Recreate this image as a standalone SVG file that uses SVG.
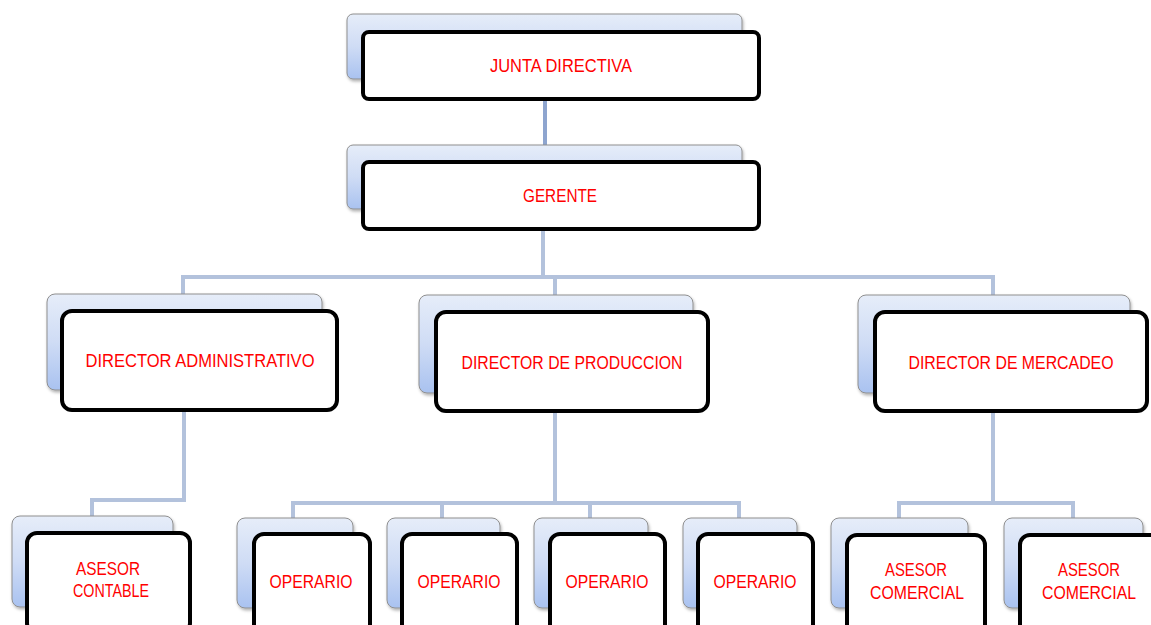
<svg xmlns="http://www.w3.org/2000/svg" width="1151" height="625" viewBox="0 0 1151 625">
<defs>
<linearGradient id="bg" x1="0" y1="0" x2="0" y2="1">
<stop offset="0" stop-color="#e6edf9"/>
<stop offset="0.5" stop-color="#cfdcf5"/>
<stop offset="1" stop-color="#a9c2f0"/>
</linearGradient>
<filter id="sh" x="-10%" y="-10%" width="120%" height="130%">
<feDropShadow dx="1" dy="2" stdDeviation="1.5" flood-color="#000" flood-opacity="0.3"/>
</filter>
</defs>
<style>
.back{fill:url(#bg);stroke:#8f8f8f;stroke-width:1;filter:url(#sh)}
.front{fill:#fff;stroke:#000;stroke-width:4}
.t{font-family:"Liberation Sans Narrow","Liberation Sans",Arial,sans-serif;font-size:18.5px;fill:#ff0000;text-anchor:middle}
.c{fill:none;stroke:#b3c2dc;stroke-width:4}
.c2{fill:none;stroke:#8ea5cf;stroke-width:4}
</style>
<rect width="1151" height="625" fill="#fff"/>
<g id="connectors">
<line class="c2" x1="545" y1="99" x2="545" y2="147"/>
<polyline class="c" points="543,230 543,277"/>
<polyline class="c" points="183,295 183,277 993,277 993,295"/>
<line class="c" x1="555" y1="277" x2="555" y2="295"/>
<polyline class="c" points="184,412 184,500 92,500 92,517"/>
<polyline class="c" points="555,412 555,503"/>
<polyline class="c" points="293,518 293,503 739,503 739,518"/>
<line class="c" x1="442" y1="503" x2="442" y2="518"/>
<line class="c" x1="590" y1="503" x2="590" y2="518"/>
<polyline class="c" points="993,412 993,503"/>
<polyline class="c" points="899,518 899,503 1073,503 1073,518"/>
</g>
<g id="junta">
<rect class="back" x="347" y="14" width="395" height="65" rx="6"/>
<rect class="front" x="363" y="32" width="396" height="67" rx="6"/>
<text class="t" x="561" y="72" textLength="142" lengthAdjust="spacingAndGlyphs">JUNTA DIRECTIVA</text>
</g>
<g id="gerente">
<rect class="back" x="347" y="145" width="395" height="64" rx="6"/>
<rect class="front" x="363" y="162" width="396" height="67" rx="6"/>
<text class="t" x="560" y="202" textLength="74" lengthAdjust="spacingAndGlyphs">GERENTE</text>
</g>
<g id="dir-admin">
<rect class="back" x="47" y="294" width="275" height="96" rx="8"/>
<rect class="front" x="62" y="311" width="275" height="99" rx="10"/>
<text class="t" x="200" y="367" textLength="229" lengthAdjust="spacingAndGlyphs">DIRECTOR ADMINISTRATIVO</text>
</g>
<g id="dir-prod">
<rect class="back" x="419" y="295" width="274" height="98" rx="8"/>
<rect class="front" x="436" y="312" width="272" height="99" rx="10"/>
<text class="t" x="572" y="369" textLength="221" lengthAdjust="spacingAndGlyphs">DIRECTOR DE PRODUCCION</text>
</g>
<g id="dir-merc">
<rect class="back" x="858" y="295" width="272" height="98" rx="8"/>
<rect class="front" x="875" y="312" width="272" height="99" rx="10"/>
<text class="t" x="1011" y="369" textLength="205" lengthAdjust="spacingAndGlyphs">DIRECTOR DE MERCADEO</text>
</g>
<g id="asesor-contable">
<rect class="back" x="12" y="516" width="161" height="91" rx="8"/>
<rect class="front" x="27" y="533" width="163" height="100" rx="10"/>
<text class="t" x="108" y="575" textLength="64" lengthAdjust="spacingAndGlyphs">ASESOR</text>
<text class="t" x="111" y="597" textLength="76" lengthAdjust="spacingAndGlyphs">CONTABLE</text>
</g>
<g id="operario-1">
<rect class="back" x="237" y="518" width="116" height="90" rx="8"/>
<rect class="front" x="254" y="534" width="116" height="100" rx="10"/>
<text class="t" x="311" y="588" textLength="83" lengthAdjust="spacingAndGlyphs">OPERARIO</text>
</g>
<g id="operario-2">
<rect class="back" x="387" y="518" width="113" height="90" rx="8"/>
<rect class="front" x="402" y="534" width="115" height="100" rx="10"/>
<text class="t" x="459" y="588" textLength="83" lengthAdjust="spacingAndGlyphs">OPERARIO</text>
</g>
<g id="operario-3">
<rect class="back" x="534" y="518" width="114" height="90" rx="8"/>
<rect class="front" x="550" y="534" width="115" height="100" rx="10"/>
<text class="t" x="607" y="588" textLength="83" lengthAdjust="spacingAndGlyphs">OPERARIO</text>
</g>
<g id="operario-4">
<rect class="back" x="683" y="518" width="114" height="90" rx="8"/>
<rect class="front" x="698" y="534" width="115" height="100" rx="10"/>
<text class="t" x="755" y="588" textLength="83" lengthAdjust="spacingAndGlyphs">OPERARIO</text>
</g>
<g id="asesor-comercial-1">
<rect class="back" x="831" y="518" width="137" height="90" rx="8"/>
<rect class="front" x="847" y="535" width="138" height="100" rx="10"/>
<text class="t" x="916" y="576" textLength="62" lengthAdjust="spacingAndGlyphs">ASESOR</text>
<text class="t" x="917" y="599" textLength="94" lengthAdjust="spacingAndGlyphs">COMERCIAL</text>
</g>
<g id="asesor-comercial-2">
<rect class="back" x="1004" y="518" width="139" height="90" rx="8"/>
<rect class="front" x="1020" y="535" width="140" height="100" rx="10"/>
<text class="t" x="1089" y="576" textLength="62" lengthAdjust="spacingAndGlyphs">ASESOR</text>
<text class="t" x="1089" y="599" textLength="94" lengthAdjust="spacingAndGlyphs">COMERCIAL</text>
</g>
</svg>
